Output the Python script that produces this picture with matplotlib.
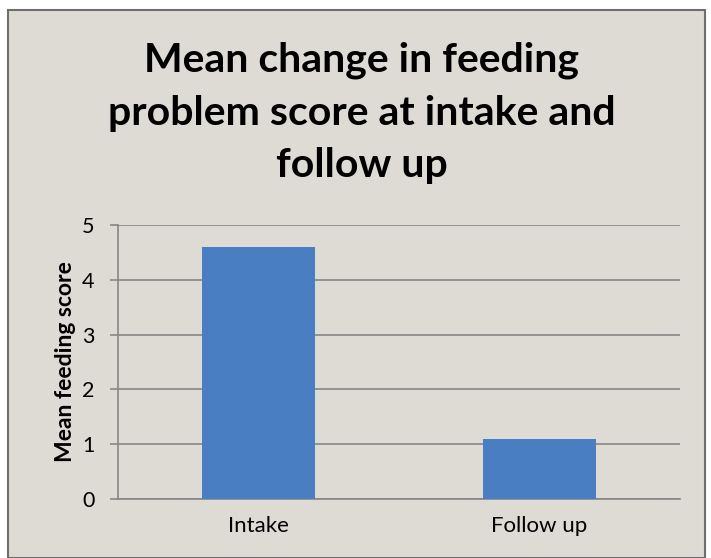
import matplotlib.pyplot as plt
from matplotlib.patches import Rectangle

categories = ["Intake", "Follow up"]
mean_scores = [4.6, 1.1]
y_ticks = [0, 1, 2, 3, 4, 5]

BG = "#dedbd4"
BAR = "#4a7ec2"
GRID = "#868686"

plt.rcParams["font.family"] = ["Lato", "DejaVu Sans"]

fig = plt.figure(figsize=(7.11, 5.58), dpi=100)
fig.patch.set_facecolor("white")
fig.patches.append(Rectangle((8 / 711, 0), 697 / 711, 548 / 558, transform=fig.transFigure,
                             facecolor=BG, edgecolor="#6e6e6e", linewidth=1.5, zorder=-1))

ax = fig.add_axes([118 / 711, 59 / 558, 562 / 711, 274 / 558])
ax.set_facecolor(BG)
ax.patch.set_alpha(0)

ax.bar(range(len(categories)), mean_scores, width=0.4, color=BAR, zorder=3)
ax.set_xlim(-0.5, 1.5)
ax.set_ylim(0, 5)
ax.set_yticks(y_ticks)
ax.set_xticks(range(len(categories)))
ax.set_xticklabels(categories)
ax.yaxis.grid(True, color=GRID, linewidth=1.2, zorder=0)
ax.set_axisbelow(True)

for side in ["top", "right"]:
    ax.spines[side].set_visible(False)
for side in ["left", "bottom"]:
    ax.spines[side].set_color(GRID)
    ax.spines[side].set_linewidth(1.2)
ax.tick_params(axis="y", length=6, color=GRID, width=1.2, labelsize=15.5, pad=11)
ax.tick_params(axis="x", length=0, labelsize=16, pad=12)

ax.set_ylabel("Mean feeding score", fontsize=16.5, fontweight="bold", labelpad=4)

fig.text(362 / 711, 1 - 113 / 558, "Mean change in feeding\nproblem score at intake and\nfollow up",
         ha="center", va="center", fontsize=29.5, fontweight="bold", linespacing=1.52)

fig.savefig("out.png", dpi=100, facecolor=fig.get_facecolor())
